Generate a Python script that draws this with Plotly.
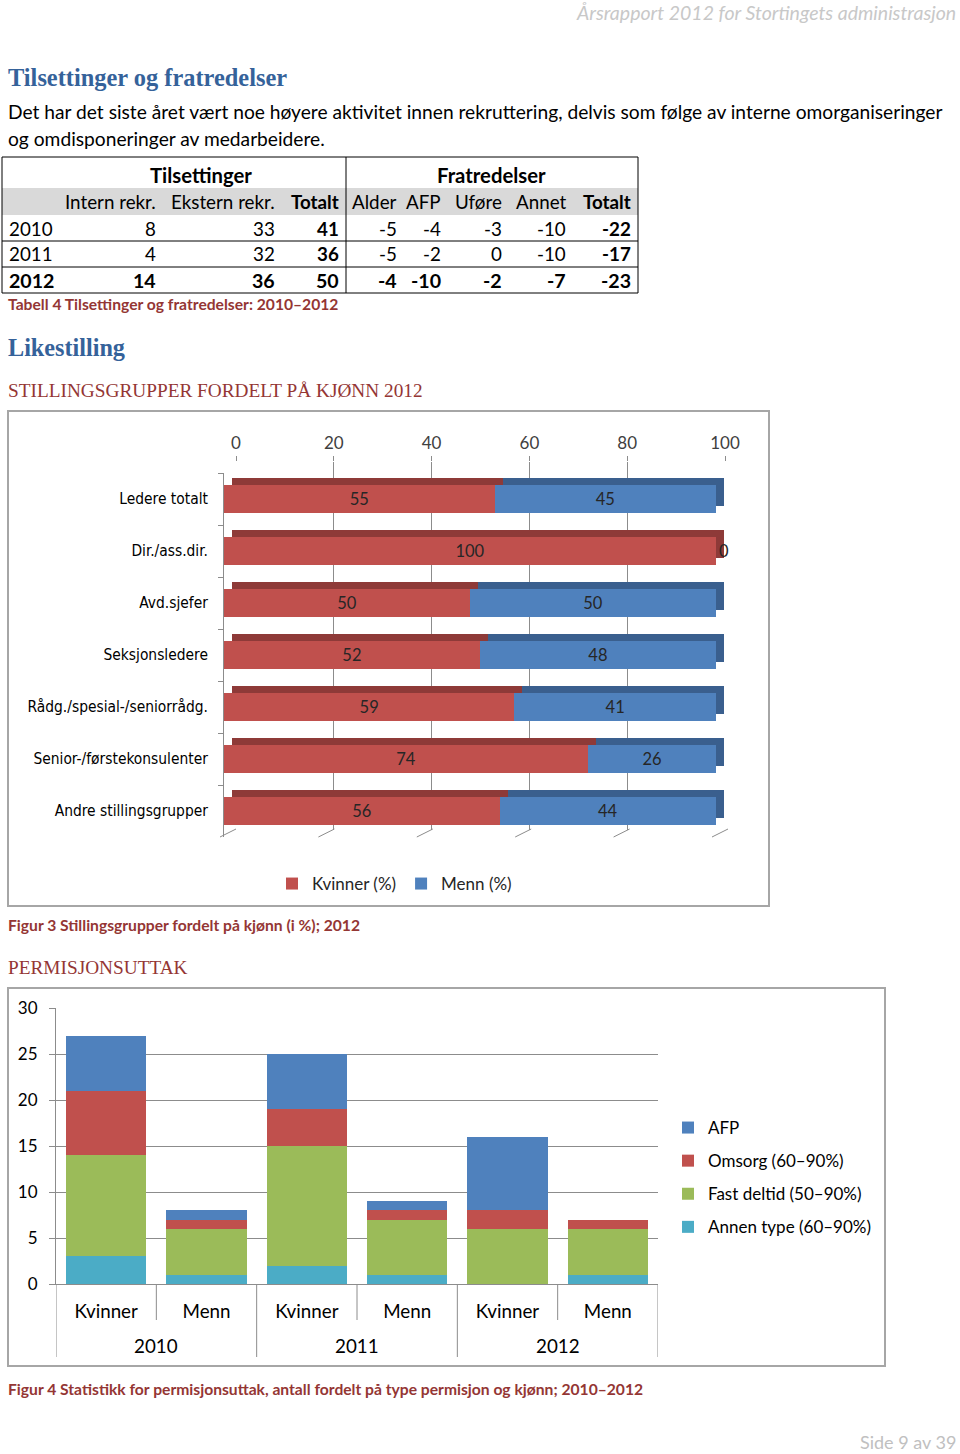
import plotly.graph_objects as go

W, H = 960, 1454


def px(x):
    return x / W


def py(y):
    return 1 - y / H


# ---------------- data ----------------
# Table 4
tab_years = ["2010", "2011", "2012"]
tab_cols = ["Intern rekr.", "Ekstern rekr.", "Totalt", "Alder", "AFP", "Uføre", "Annet", "Totalt"]
tab_groups = ["Tilsettinger", "Fratredelser"]
intern = [8, 4, 14]
ekstern = [33, 32, 36]
tils_tot = [41, 36, 50]
alder = [-5, -5, -4]
afp_frat = [-4, -2, -10]
ufore = [-3, 0, -2]
annet = [-10, -10, -7]
frat_tot = [-22, -17, -23]

# Figure 3
groups = ["Ledere totalt", "Dir./ass.dir.", "Avd.sjefer", "Seksjonsledere",
          "Rådg./spesial-/seniorrådg.", "Senior-/førstekonsulenter", "Andre stillingsgrupper"]
kvinner = [55, 100, 50, 52, 59, 74, 56]
menn = [45, 0, 50, 48, 41, 26, 44]
pct_ticks = [0, 20, 40, 60, 80, 100]

# Figure 4
perm_years = ["2010", "2010", "2011", "2011", "2012", "2012"]
perm_gender = ["Kvinner", "Menn", "Kvinner", "Menn", "Kvinner", "Menn"]
annen_type = [3, 1, 2, 1, 0, 1]
fast_deltid = [11, 5, 13, 6, 6, 5]
omsorg = [7, 1, 4, 1, 2, 1]
afp = [6, 1, 6, 1, 8, 0]
count_ticks = [0, 5, 10, 15, 20, 25, 30]

# ---------------- styles ----------------
BLUE = "#4F81BD"
RED = "#C0504D"
GREEN = "#9BBB59"
AQUA = "#4BACC6"
RED_TOP = "#8E3A38"
BLUE_TOP = "#3A5F8E"
HEAD_BLUE = "#35629A"
CAP_RED = "#943634"
GRID = "#8C8C8C"
SANS = "Lato, 'Open Sans', sans-serif"
SERIF = "'Liberation Serif', 'DejaVu Serif', serif"
NARROW = "'Liberation Sans Narrow', 'DejaVu Sans Condensed', 'Arial Narrow', 'Roboto Condensed', sans-serif"

fig = go.Figure()
shapes = []
ann = []


def rect(x0, y0, x1, y1, color, width, fill="rgba(0,0,0,0)", layer="above"):
    shapes.append(dict(type="rect", xref="paper", yref="paper", x0=px(x0), x1=px(x1),
                       y0=py(y1), y1=py(y0), line=dict(color=color, width=width),
                       fillcolor=fill, layer=layer))


def line(x0, y0, x1, y1, color, width):
    shapes.append(dict(type="line", xref="paper", yref="paper", x0=px(x0), x1=px(x1),
                       y0=py(y0), y1=py(y1), line=dict(color=color, width=width), layer="above"))


def txt(s, x, y, size, color="black", family=SANS, anchor="left", xref="paper", yanchor="middle"):
    ann.append(dict(text=s, x=(px(x) if xref == "paper" else x), y=py(y), xref=xref, yref="paper",
                    showarrow=False, xanchor=anchor, yanchor=yanchor, borderpad=0,
                    font=dict(family=family, size=size, color=color)))


# ---------------- table (text cells + rules) ----------------
col_edges = [2, 55, 163, 282, 346, 404, 448, 509, 573, 638]
tab_top, super_h, head_h, row_h = 157, 31, 27, 26
head_y = tab_top + super_h + head_h / 2
row_y = [tab_top + super_h + head_h + row_h * (i + 0.5) for i in range(len(tab_years))]
tab_bottom = tab_top + super_h + head_h + row_h * len(tab_years)

rect(col_edges[0], tab_top + super_h, col_edges[-1], tab_top + super_h + head_h,
     "rgba(0,0,0,0)", 0, fill="#D9D9D9", layer="below")
rect(col_edges[0], tab_top, col_edges[-1], tab_bottom, "black", 1)
line(col_edges[4], tab_top, col_edges[4], tab_bottom, "black", 1)
for k in range(1, len(tab_years)):
    yy = tab_top + super_h + head_h + k * row_h
    line(col_edges[0], yy, col_edges[-1], yy, "black", 1)

TS = 18.8
txt("<b>" + tab_groups[0] + "</b>", (col_edges[1] + col_edges[4]) / 2, tab_top + super_h / 2 + 2, 20.3, anchor="center")
txt("<b>" + tab_groups[1] + "</b>", (col_edges[4] + col_edges[-1]) / 2, tab_top + super_h / 2 + 2, 20.3, anchor="center")
for j, name in enumerate(tab_cols):
    s = "<b>" + name + "</b>" if name == "Totalt" else name
    txt(s, col_edges[j + 2] - 6, head_y, TS, anchor="right")
table_cols = [intern, ekstern, tils_tot, alder, afp_frat, ufore, annet, frat_tot]
bold_cols = [False, False, True, False, False, False, False, True]
for i, yr in enumerate(tab_years):
    last = (yr == "2012")
    size = 19.6 if last else TS
    txt("<b>" + yr + "</b>" if last else yr, col_edges[0] + 6, row_y[i], size)
    for j, vals in enumerate(table_cols):
        s = str(vals[i])
        if last or bold_cols[j]:
            s = "<b>" + s + "</b>"
        txt(s, col_edges[j + 2] - 6, row_y[i], size, anchor="right")

# ---------------- Figure 3 (pseudo-3D stacked bars) ----------------
fig.add_trace(go.Scatter(x=[0, 100], y=[0, 1], mode="markers", marker=dict(opacity=0),
                         hoverinfo="skip", showlegend=False, xaxis="x", yaxis="y"))
for vals, col in [(kvinner, RED_TOP), (menn, BLUE_TOP)]:
    fig.add_trace(go.Bar(y=groups, x=vals, orientation="h", marker=dict(color=col, line_width=0),
                         width=0.52, showlegend=False, hoverinfo="skip", xaxis="x2", yaxis="y2"))
for vals, col, name in [(kvinner, RED, "Kvinner (%)"), (menn, BLUE, "Menn (%)")]:
    fig.add_trace(go.Bar(y=groups, x=vals, orientation="h", name=name,
                         marker=dict(color=col, line_width=0), width=0.52,
                         text=[str(v) for v in vals], texttemplate="%{text}",
                         textposition=["outside" if v == 0 else "inside" for v in vals],
                         insidetextanchor="middle", textangle=0, cliponaxis=False,
                         textfont=dict(family=SANS, size=16.5, color="#262626"),
                         xaxis="x3", yaxis="y3", legend="legend"))

# ---------------- Figure 4 ----------------
idx = list(range(len(perm_gender)))
for rank, (vals, col, name) in enumerate([(annen_type, AQUA, "Annen type (60–90%)"),
                                          (fast_deltid, GREEN, "Fast deltid (50–90%)"),
                                          (omsorg, RED, "Omsorg (60–90%)"), (afp, BLUE, "AFP")]):
    fig.add_trace(go.Bar(x=idx, y=vals, name=name, width=0.8, legendrank=4 - rank,
                         marker=dict(color=col, line_width=0), legendgroup=name,
                         xaxis="x4", yaxis="y4", legend="legend2"))

# category dividers and year labels for Figure 4
c2_axis_y, c2_inner_end, c2_outer_end = 1284, 1320, 1357
for b in range(len(idx) + 1):
    xb = b - 0.5
    is_year_edge = b == 0 or b == len(idx) or perm_years[b] != perm_years[b - 1]
    shapes.append(dict(type="line", xref="x4", yref="paper", x0=xb, x1=xb,
                       y0=py(c2_axis_y), y1=py(c2_outer_end if is_year_edge else c2_inner_end),
                       line=dict(color=GRID, width=1), layer="above"))
for yr in sorted(set(perm_years)):
    pos = [i for i, v in enumerate(perm_years) if v == yr]
    txt(yr, sum(pos) / len(pos), 1345, TS, anchor="center", xref="x4")

c1_front_x = [224, 716]
c1_front_y = [473, 837]
dx, dy = 8, 7

fig.update_layout(
    width=W, height=H, margin=dict(l=0, r=0, t=0, b=0, autoexpand=False), autosize=False,
    paper_bgcolor="white", plot_bgcolor="rgba(0,0,0,0)",
    barmode="stack", showlegend=True,
    font=dict(family=SANS, size=16, color="black"),
    xaxis=dict(domain=[px(236), px(725)], range=[0, 100], side="top", anchor="y", automargin=False,
               tickvals=pct_ticks, showgrid=True, gridcolor=GRID, gridwidth=1,
               zeroline=False, showline=False, ticks="outside", ticklen=5, tickcolor=GRID,
               tickfont=dict(family=SANS, size=17, color="#404040"), fixedrange=True),
    yaxis=dict(domain=[py(830), py(462)], range=[0, 1], visible=False, anchor="x", automargin=False),
    xaxis2=dict(domain=[px(c1_front_x[0] + dx), px(c1_front_x[1] + dx)], range=[0, 100],
                visible=False, anchor="y2", automargin=False),
    yaxis2=dict(domain=[py(c1_front_y[1] - dy), py(c1_front_y[0] - dy)], type="category",
                autorange="reversed", visible=False, anchor="x2", automargin=False),
    xaxis3=dict(domain=[px(c1_front_x[0]), px(c1_front_x[1])], range=[0, 100],
                visible=False, anchor="y3", automargin=False),
    yaxis3=dict(domain=[py(c1_front_y[1]), py(c1_front_y[0])], type="category",
                autorange="reversed", anchor="x3", showline=True, linecolor=GRID, automargin=False,
                ticks="outside", tickson="boundaries", ticklen=5, tickcolor=GRID,
                ticklabelstandoff=12, showgrid=False,
                tickfont=dict(family=NARROW, size=15.4, color="black")),
    xaxis4=dict(domain=[px(56), px(658)], anchor="y4", range=[-0.5, len(idx) - 0.5], automargin=False,
                tickvals=idx, ticktext=perm_gender, ticks="", showgrid=False, zeroline=False,
                showline=True, linecolor=GRID, ticklabelstandoff=10,
                tickfont=dict(family=SANS, size=TS, color="black")),
    yaxis4=dict(domain=[py(1284), py(1008)], range=[0, 30], anchor="x4", tickvals=count_ticks,
                showgrid=True, gridcolor=GRID, zeroline=False, showline=True, linecolor=GRID,
                ticks="outside", ticklen=6, tickcolor=GRID, ticklabelstandoff=8, automargin=False,
                tickfont=dict(family=SANS, size=17, color="black")),
    legend=dict(orientation="h", x=px(272), y=py(866), xanchor="left", yanchor="top",
                traceorder="normal", font=dict(family=SANS, size=17, color="#262626"),
                itemwidth=30, bgcolor="rgba(0,0,0,0)"),
    legend2=dict(orientation="v", x=px(668), y=py(1110), xanchor="left", yanchor="top",
                 traceorder="grouped", tracegroupgap=8,
                 font=dict(family=SANS, size=17, color="black"),
                 itemwidth=30, bgcolor="rgba(0,0,0,0)"),
)

# frames
rect(8, 411, 769, 906, "#A6A6A6", 2)
rect(8, 988, 885, 1366, "#A6A6A6", 2)

# floor depth lines of the 3D chart
scale = (c1_front_x[1] - c1_front_x[0]) / 100.0
for t in pct_ticks:
    fx = c1_front_x[0] + t * scale
    line(fx - 4, c1_front_y[1], fx + dx + 4, c1_front_y[1] - dy - 1, GRID, 1)

# ---------------- page text ----------------
txt("<i>Årsrapport 2012 for Stortingets administrasjon</i>", 957, 0, 19.5, "#C8C8C8", anchor="right",
    yanchor="top")
txt("<b>Tilsettinger og fratredelser</b>", 7, 78, 24.4, HEAD_BLUE, SERIF)
txt("Det har det siste året vært noe høyere aktivitet innen rekruttering, delvis som følge av interne omorganiseringer",
    7, 112, 19.2)
txt("og omdisponeringer av medarbeidere.", 7, 138, 19.2)
txt("<b>Tabell 4 Tilsettinger og fratredelser: 2010–2012</b>", 7, 304, 15.65, CAP_RED)
txt("<b>Likestilling</b>", 7, 347, 24.2, HEAD_BLUE, SERIF)
txt("STILLINGSGRUPPER FORDELT PÅ KJØNN 2012", 7, 390, 19.3, CAP_RED, SERIF)
txt("<b>Figur 3 Stillingsgrupper fordelt på kjønn (i %); 2012</b>", 7, 925, 15.65, CAP_RED)
txt("PERMISJONSUTTAK", 7, 967, 19.3, CAP_RED, SERIF)
txt("<b>Figur 4 Statistikk for permisjonsuttak, antall fordelt på type permisjon og kjønn; 2010–2012</b>",
    7, 1389, 15.65, CAP_RED)
txt("Side 9 av 39", 957, 1454, 18, "#C0C0C0", anchor="right", yanchor="bottom")

fig.update_layout(shapes=shapes, annotations=ann)

# remove the default page margin right away
FIX = ("document.documentElement.style.margin='0';document.body.style.margin='0';"
       "document.body.style.padding='0';document.documentElement.style.overflow='hidden';"
       "document.body.style.overflow='hidden';")
fig.write_html("out.html", post_script="}); " + FIX + " (function(){")
